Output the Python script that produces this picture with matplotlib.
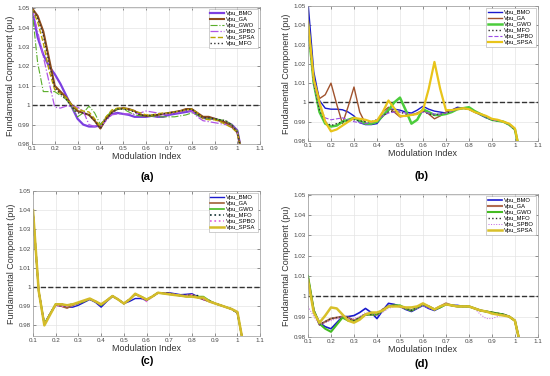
import matplotlib
matplotlib.use("Agg")
import matplotlib.pyplot as plt

plt.rcParams['font.family'] = ['Liberation Sans', 'DejaVu Sans']

# modulation index samples shared by every curve
m_idx = [0.100, 0.125, 0.150, 0.175, 0.200, 0.225, 0.250, 0.275, 0.300, 0.325,
         0.350, 0.375, 0.400, 0.425, 0.450, 0.475, 0.500, 0.525, 0.550, 0.575,
         0.600, 0.625, 0.650, 0.675, 0.700, 0.725, 0.750, 0.775, 0.800, 0.825,
         0.850, 0.875, 0.900, 0.925, 0.950, 0.975, 1.000, 1.020]

# ---- panel (a)
bmo_a = [1.050, 1.035, 1.026, 1.020, 1.016, 1.011, 1.005, 0.999, 0.993, 0.990,
         0.989, 0.989, 0.9895, 0.993, 0.9955, 0.996, 0.9955, 0.995, 0.994, 0.994,
         0.994, 0.9945, 0.994, 0.994, 0.995, 0.9955, 0.996, 0.9965, 0.997, 0.995,
         0.9935, 0.993, 0.993, 0.992, 0.991, 0.990, 0.987, 0.975]
ga_a = [1.050, 1.046, 1.038, 1.024, 1.010, 1.007, 1.004, 1.000, 0.997, 0.996,
        0.995, 0.992, 0.988, 0.993, 0.9965, 0.998, 0.9985, 0.998, 0.997, 0.995,
        0.9945, 0.9945, 0.995, 0.9955, 0.996, 0.9965, 0.997, 0.998, 0.998, 0.996,
        0.994, 0.994, 0.993, 0.992, 0.991, 0.989, 0.986, 0.975]
gwo_a = [1.050, 1.022, 1.007, 1.007, 1.007, 1.005, 1.003, 0.999, 0.994, 0.996,
         0.9995, 0.996, 0.990, 0.994, 0.997, 0.998, 0.998, 0.9965, 0.995, 0.9945,
         0.9945, 0.9945, 0.994, 0.994, 0.994, 0.994, 0.9945, 0.995, 0.996, 0.995,
         0.993, 0.993, 0.993, 0.9925, 0.992, 0.990, 0.987, 0.975]
spbo_a = [1.050, 1.038, 1.025, 1.012, 0.999, 0.9985, 0.9995, 0.9995, 0.999, 0.997,
          0.990, 0.989, 0.989, 0.992, 0.995, 0.9955, 0.9955, 0.9955, 0.9955, 0.996,
          0.997, 0.9965, 0.996, 0.9955, 0.9955, 0.996, 0.9965, 0.997, 0.997, 0.994,
          0.992, 0.9915, 0.991, 0.9905, 0.990, 0.989, 0.986, 0.975]
spsa_a = [1.050, 1.043, 1.032, 1.018, 1.008, 1.006, 1.004, 1.000, 0.998, 0.997,
          0.9965, 0.993, 0.989, 0.994, 0.9975, 0.9985, 0.9985, 0.998, 0.997, 0.996,
          0.995, 0.995, 0.9955, 0.996, 0.996, 0.9965, 0.997, 0.9975, 0.998, 0.996,
          0.993, 0.9925, 0.9925, 0.9915, 0.990, 0.9885, 0.986, 0.975]
mfo_a = [1.050, 1.045, 1.036, 1.022, 1.009, 1.006, 1.003, 0.999, 0.996, 0.996,
         0.995, 0.992, 0.988, 0.993, 0.996, 0.998, 0.998, 0.9975, 0.9965, 0.995,
         0.9945, 0.995, 0.995, 0.9955, 0.996, 0.9965, 0.997, 0.9975, 0.998, 0.9955,
         0.9935, 0.9935, 0.993, 0.9925, 0.992, 0.990, 0.986, 0.975]

# ---- panel (b)
bmo_b = [1.052, 1.016, 1.001, 0.997, 0.9965, 0.9965, 0.9962, 0.995, 0.993, 0.9895,
         0.9885, 0.9885, 0.989, 0.993, 0.9965, 0.9965, 0.996, 0.995, 0.9945, 0.996,
         0.998, 0.9965, 0.9955, 0.995, 0.9945, 0.996, 0.9975, 0.997, 0.9965, 0.995,
         0.9935, 0.992, 0.991, 0.9905, 0.990, 0.9885, 0.986, 0.975]
ga_b = [1.040, 1.012, 1.002, 1.004, 1.010, 0.999, 0.989, 0.998, 1.008, 0.995,
        0.989, 0.989, 0.990, 0.995, 0.9975, 0.995, 0.9925, 0.993, 0.9935, 0.9945,
        0.996, 0.994, 0.9915, 0.993, 0.995, 0.996, 0.997, 0.997, 0.9965, 0.995,
        0.994, 0.9925, 0.991, 0.9905, 0.990, 0.9885, 0.986, 0.975]
gwo_b = [1.040, 1.010, 0.995, 0.989, 0.9875, 0.988, 0.990, 0.991, 0.992, 0.9905,
         0.989, 0.989, 0.990, 0.993, 0.996, 1.000, 1.0025, 0.996, 0.989, 0.991,
         0.9965, 0.995, 0.9935, 0.9935, 0.994, 0.995, 0.9965, 0.997, 0.9975, 0.9955,
         0.994, 0.9925, 0.991, 0.9905, 0.990, 0.9885, 0.986, 0.975]
mfo_b = [1.040, 1.010, 0.996, 0.990, 0.988, 0.989, 0.990, 0.9905, 0.991, 0.9905,
         0.990, 0.990, 0.991, 0.993, 0.995, 0.9955, 0.995, 0.994, 0.9935, 0.994,
         0.9955, 0.994, 0.9935, 0.994, 0.9945, 0.9955, 0.9965, 0.997, 0.9965, 0.995,
         0.994, 0.9925, 0.991, 0.9905, 0.990, 0.9885, 0.986, 0.975]
spbo_b = [1.040, 1.010, 0.998, 0.992, 0.991, 0.9915, 0.992, 0.991, 0.990, 0.9895,
          0.989, 0.9895, 0.991, 0.993, 0.9945, 0.995, 0.995, 0.9945, 0.994, 0.994,
          0.995, 0.9945, 0.994, 0.994, 0.9945, 0.9955, 0.9965, 0.997, 0.9965, 0.995,
          0.994, 0.9925, 0.991, 0.9905, 0.990, 0.9885, 0.986, 0.975]
spsa_b = [1.042, 1.012, 1.000, 0.990, 0.985, 0.986, 0.988, 0.990, 0.992, 0.9915,
          0.991, 0.990, 0.9905, 0.995, 1.001, 0.997, 0.993, 0.993, 0.9935, 0.994,
          0.996, 1.007, 1.021, 1.007, 0.996, 0.996, 0.9965, 0.997, 0.9965, 0.995,
          0.994, 0.993, 0.9915, 0.991, 0.990, 0.989, 0.9865, 0.975]

# ---- panel (c)
bmo_c = [1.039, 0.998, 0.9805, 0.986, 0.9905, 0.990, 0.9895, 0.9895, 0.9905, 0.992,
         0.9935, 0.992, 0.9895, 0.9925, 0.995, 0.9935, 0.9914, 0.9925, 0.994, 0.994,
         0.993, 0.995, 0.9968, 0.997, 0.997, 0.9965, 0.996, 0.9962, 0.9965, 0.995,
         0.9935, 0.9925, 0.9915, 0.9905, 0.9895, 0.9885, 0.9865, 0.974]
ga_c = [1.039, 0.998, 0.9805, 0.986, 0.9908, 0.990, 0.989, 0.9905, 0.9915, 0.9925,
        0.9938, 0.9925, 0.9905, 0.993, 0.9953, 0.9935, 0.9914, 0.9935, 0.9962, 0.995,
        0.993, 0.995, 0.997, 0.9968, 0.9966, 0.996, 0.9955, 0.9955, 0.996, 0.9945,
        0.9935, 0.9925, 0.9915, 0.9905, 0.9895, 0.9885, 0.9865, 0.974]
gwo_c = [1.039, 0.998, 0.9808, 0.986, 0.9912, 0.991, 0.9905, 0.991, 0.9915, 0.9925,
         0.9938, 0.9925, 0.9905, 0.993, 0.9953, 0.9935, 0.9914, 0.9935, 0.9962, 0.995,
         0.9935, 0.995, 0.997, 0.9966, 0.9962, 0.9958, 0.9955, 0.995, 0.995, 0.995,
         0.995, 0.993, 0.9915, 0.9905, 0.9895, 0.9885, 0.9865, 0.974]
mfo_c = [1.039, 0.998, 0.9805, 0.986, 0.9908, 0.991, 0.9905, 0.991, 0.9915, 0.9925,
         0.9938, 0.9925, 0.9905, 0.993, 0.9953, 0.9935, 0.9914, 0.9935, 0.9962, 0.995,
         0.9935, 0.995, 0.997, 0.9968, 0.9966, 0.996, 0.9955, 0.9955, 0.9955, 0.9955,
         0.994, 0.993, 0.9915, 0.9905, 0.9895, 0.9885, 0.9865, 0.974]
spbo_c = [1.039, 0.998, 0.9805, 0.986, 0.9905, 0.990, 0.990, 0.9905, 0.9915, 0.9925,
          0.9938, 0.9925, 0.9905, 0.993, 0.9953, 0.9935, 0.9914, 0.9935, 0.996, 0.9945,
          0.9925, 0.995, 0.997, 0.9968, 0.9966, 0.996, 0.9955, 0.9955, 0.996, 0.9945,
          0.9935, 0.9925, 0.9915, 0.9905, 0.9895, 0.9885, 0.9865, 0.974]
spsa_c = [1.040, 0.998, 0.980, 0.9855, 0.991, 0.991, 0.9905, 0.991, 0.992, 0.993,
          0.994, 0.9925, 0.991, 0.993, 0.9953, 0.9935, 0.9914, 0.9935, 0.9965, 0.995,
          0.9935, 0.995, 0.997, 0.9966, 0.9962, 0.9958, 0.9955, 0.995, 0.995, 0.9945,
          0.9945, 0.9925, 0.9915, 0.9905, 0.9895, 0.9885, 0.987, 0.974]

# ---- panel (d)
bmo_d = [1.009, 0.993, 0.987, 0.985, 0.984, 0.987, 0.990, 0.990, 0.9905, 0.992,
         0.994, 0.992, 0.989, 0.993, 0.9965, 0.996, 0.995, 0.9935, 0.9925, 0.994,
         0.9955, 0.994, 0.993, 0.9945, 0.996, 0.9955, 0.9955, 0.995, 0.995, 0.994,
         0.993, 0.9925, 0.992, 0.9915, 0.991, 0.990, 0.988, 0.978]
ga_d = [1.009, 0.993, 0.986, 0.9875, 0.989, 0.9895, 0.990, 0.9895, 0.988, 0.9895,
        0.991, 0.991, 0.991, 0.9935, 0.995, 0.9955, 0.995, 0.994, 0.993, 0.9945,
        0.996, 0.995, 0.9935, 0.995, 0.9965, 0.9955, 0.995, 0.995, 0.995, 0.994,
        0.993, 0.9925, 0.992, 0.9915, 0.991, 0.990, 0.988, 0.978]
gwo_d = [1.010, 0.993, 0.9865, 0.984, 0.9825, 0.986, 0.9895, 0.988, 0.9875, 0.989,
         0.991, 0.991, 0.991, 0.993, 0.995, 0.9955, 0.9955, 0.994, 0.993, 0.9945,
         0.996, 0.995, 0.9935, 0.9945, 0.996, 0.9955, 0.995, 0.995, 0.995, 0.994,
         0.993, 0.9925, 0.992, 0.9915, 0.991, 0.990, 0.988, 0.978]
mfo_d = [1.009, 0.993, 0.986, 0.9875, 0.989, 0.9895, 0.990, 0.9895, 0.988, 0.9895,
         0.991, 0.991, 0.991, 0.9935, 0.995, 0.9955, 0.995, 0.994, 0.993, 0.9945,
         0.996, 0.995, 0.9935, 0.995, 0.996, 0.9955, 0.995, 0.995, 0.995, 0.994,
         0.993, 0.9925, 0.992, 0.9915, 0.991, 0.990, 0.988, 0.978]
spbo_d = [0.995, 0.990, 0.986, 0.987, 0.988, 0.989, 0.990, 0.989, 0.989, 0.990,
          0.992, 0.9915, 0.9905, 0.992, 0.994, 0.995, 0.995, 0.994, 0.9935, 0.994,
          0.9955, 0.994, 0.9935, 0.995, 0.9965, 0.9955, 0.995, 0.995, 0.995, 0.994,
          0.991, 0.989, 0.989, 0.990, 0.991, 0.990, 0.988, 0.978]
spsa_d = [1.008, 0.992, 0.987, 0.9905, 0.9945, 0.994, 0.991, 0.988, 0.987, 0.9885,
          0.991, 0.992, 0.992, 0.993, 0.995, 0.995, 0.995, 0.9945, 0.9945, 0.995,
          0.9965, 0.995, 0.9935, 0.995, 0.996, 0.9955, 0.995, 0.995, 0.995, 0.994,
          0.993, 0.9925, 0.9915, 0.991, 0.9905, 0.990, 0.988, 0.978]

x_ticks = [0.1, 0.2, 0.3, 0.4, 0.5, 0.6, 0.7, 0.8, 0.9, 1.0, 1.1]
x_ticklabels = ['0.1', '0.2', '0.3', '0.4', '0.5', '0.6', '0.7', '0.8', '0.9', '1', '1.1']
y_ticks = [0.98, 0.99, 1.0, 1.01, 1.02, 1.03, 1.04, 1.05]
y_ticklabels = ['0.98', '0.99', '1', '1.01', '1.02', '1.03', '1.04', '1.05']

fig = plt.figure(figsize=(5.5, 3.76), dpi=100)

# series entries: (label, data, color, linestyle, linewidth), in legend order
panels = [
    dict(rect=[0.058, 0.617, 0.415, 0.364], ylim=(0.984, 1.0505), tag='(a)', tag_xy=(147, 177),
         series=[('Vpu_BMO', bmo_a, '#7b3fe0', '-', 1.6),
                 ('Vpu_GA', ga_a, '#8b4a1c', '-', 1.5),
                 ('Vpu_GWO', gwo_a, '#5aae2a', '-.', 0.8),
                 ('Vpu_SPBO', spbo_a, '#b054e6', '-.', 0.9),
                 ('Vpu_SPSA', spsa_a, '#b8a400', '--', 1.0),
                 ('Vpu_MFO', mfo_a, '#303030', ':', 1.0)]),
    dict(rect=[0.560, 0.625, 0.418, 0.359], ylim=(0.98, 1.05), tag='(b)', tag_xy=(422, 176),
         series=[('Vpu_BMO', bmo_b, '#1a1acc', '-', 1.0),
                 ('Vpu_GA', ga_b, '#a0522d', '-', 1.0),
                 ('Vpu_GWO', gwo_b, '#4ccc3c', '-', 1.8),
                 ('Vpu_MFO', mfo_b, '#303030', ':', 1.0),
                 ('Vpu_SPBO', spbo_b, '#9b4ce8', '--', 0.8),
                 ('Vpu_SPSA', spsa_b, '#e8c41a', '-', 1.6)]),
    dict(rect=[0.060, 0.107, 0.413, 0.385], ylim=(0.9746, 1.0476), tag='(c)', tag_xy=(147, 361),
         series=[('Vpu_BMO', bmo_c, '#1a1acc', '-', 1.0),
                 ('Vpu_GA', ga_c, '#a0603a', '-', 1.2),
                 ('Vpu_GWO', gwo_c, '#44bb22', '-', 1.2),
                 ('Vpu_MFO', mfo_c, '#0f3030', ':', 1.2),
                 ('Vpu_SPBO', spbo_c, '#e060e0', ':', 1.2),
                 ('Vpu_SPSA', spsa_c, '#d4bc2a', '-', 1.8)]),
    dict(rect=[0.560, 0.104, 0.418, 0.380], ylim=(0.98, 1.0503), tag='(d)', tag_xy=(422, 364),
         series=[('Vpu_BMO', bmo_d, '#1a1acc', '-', 1.2),
                 ('Vpu_GA', ga_d, '#b06a50', '-', 1.5),
                 ('Vpu_GWO', gwo_d, '#44bb22', '-', 1.5),
                 ('Vpu_MFO', mfo_d, '#303030', ':', 1.0),
                 ('Vpu_SPBO', spbo_d, '#c060e0', ':', 0.7),
                 ('Vpu_SPSA', spsa_d, '#d8c02a', '-', 1.8)]),
]

for p in panels:
    ax = fig.add_axes(p['rect'])
    ax.plot([0.1, 1.1], [1.0, 1.0], color='#333333', ls='--', lw=1.0, zorder=1)
    for name, vals, col, ls, lw in p['series']:
        ax.plot(m_idx, vals, color=col, ls=ls, lw=lw, label=name, zorder=2)
    ax.set_xlim(0.1, 1.1)
    ax.set_ylim(*p['ylim'])
    ax.set_xticks(x_ticks)
    ax.set_xticklabels(x_ticklabels)
    ax.set_yticks(y_ticks)
    ax.set_yticklabels(y_ticklabels)
    ax.tick_params(labelsize=4.5, direction='in', length=2, width=0.4,
                   colors='#444444', pad=1.5, top=True, right=True)
    ax.grid(True, color='#e4e4e4', lw=0.5)
    ax.set_axisbelow(True)
    for s in ax.spines.values():
        s.set_color('#999999')
        s.set_linewidth(0.5)
    ax.set_xlabel('Modulation Index', fontsize=6.5, color='#333333', labelpad=1)
    ax.set_ylabel('Fundamental Component (pu)', fontsize=6.5, color='#333333', labelpad=2)
    leg = ax.legend(loc='upper right', fontsize=4.2, handlelength=2.4,
                    labelspacing=0.15, borderpad=0.3, handletextpad=0.3,
                    borderaxespad=0.4, fancybox=False, framealpha=1)
    leg.get_frame().set_edgecolor('#aaaaaa')
    leg.get_frame().set_linewidth(0.4)
    tx, ty = p['tag_xy']
    fig.text(tx / 550, 1 - ty / 376, p['tag'], fontsize=8,
             fontweight='bold', ha='center', va='center')

fig.savefig('out.png', dpi=100, facecolor='white')
